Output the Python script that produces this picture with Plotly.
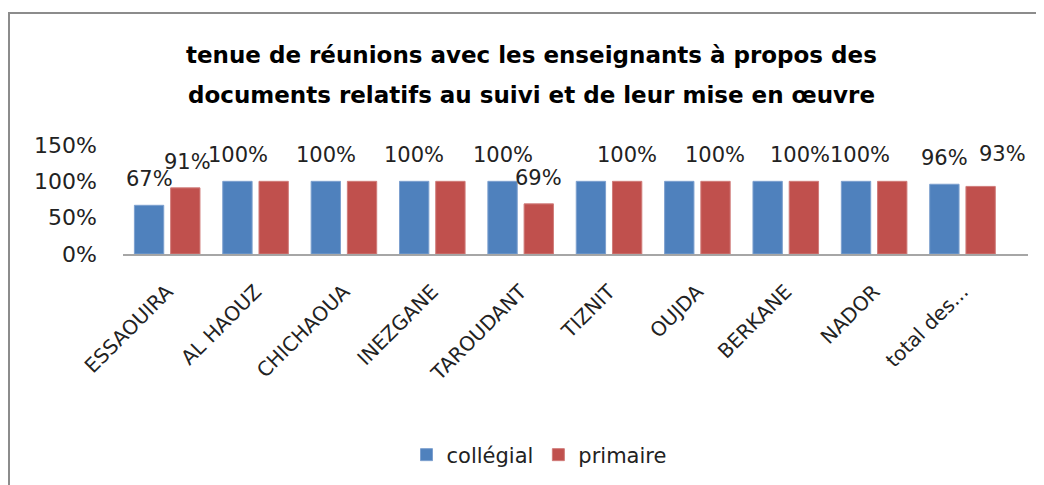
import plotly.graph_objects as go

categories = ["ESSAOUIRA", "AL HAOUZ", "CHICHAOUA", "INEZGANE", "TAROUDANT",
              "TIZNIT", "OUJDA", "BERKANE", "NADOR", "total des..."]
collegial = [0.67, 1.00, 1.00, 1.00, 1.00, 1.00, 1.00, 1.00, 1.00, 0.96]
primaire = [0.91, 1.00, 1.00, 1.00, 0.69, 1.00, 1.00, 1.00, 1.00, 0.93]
# which data labels are visible in the reference
show_collegial = [True, True, True, True, True, False, False, False, True, True]
show_primaire = [True, False, False, False, True, True, True, True, False, True]
tick_vals = [0, 0.5, 1.0, 1.5]
tick_text = ["0%", "50%", "100%", "150%"]

BLUE = "#4F81BD"
RED = "#C0504D"
FONT = "DejaVu Sans"

OFF = 8  # page body margin offset
W, H = 1044 - OFF, 485 - OFF
ML, MR, MT, MB = 123 - OFF, 16, 145 - OFF, 231
PH = H - MT - MB
PW = W - ML - MR


def py(pix):
    return (H - MB - (pix - OFF)) / PH


def px(pix):
    return (pix - OFF - ML) / PW


fig = go.Figure()
fig.add_trace(go.Bar(name="collégial", x=categories, y=collegial,
                     marker=dict(color=BLUE, line=dict(color="#7DA0CF", width=1))))
fig.add_trace(go.Bar(name="primaire", x=categories, y=primaire,
                     marker=dict(color=RED, line=dict(color="#D07C7A", width=1))))

# small horizontal nudges (px) for labels that would collide
nudge_coll = [0, 0, 0, 0, 0, 0, 0, 0, 4, 0]
nudge_prim = [2, 0, 0, 0, 0, 0, 0, -4, 0, 22]

LBL = dict(family=FONT, size=21, color="#222")
annotations = []
for i, c in enumerate(categories):
    if show_collegial[i]:
        annotations.append(dict(x=c, y=collegial[i], xref="x", yref="y",
                                text=f"{round(collegial[i]*100)}%", showarrow=False,
                                xshift=-18 + nudge_coll[i], yshift=26, yanchor="middle",
                                font=LBL))
    if show_primaire[i]:
        up = 6 if i == len(categories) - 1 else 0
        annotations.append(dict(x=c, y=primaire[i], xref="x", yref="y",
                                text=f"{round(primaire[i]*100)}%", showarrow=False,
                                xshift=18 + nudge_prim[i], yshift=26 + up,
                                yanchor="middle", font=LBL))

TITLE = dict(family=FONT, size=23, color="#000")
annotations.append(dict(x=px(531), y=py(55), xref="paper", yref="paper",
                        text="<b>tenue de réunions avec les enseignants à propos des</b>",
                        showarrow=False, xanchor="center", yanchor="middle", font=TITLE))
annotations.append(dict(x=px(531), y=py(95), xref="paper", yref="paper",
                        text="<b>documents relatifs au suivi et de leur mise en œuvre</b>",
                        showarrow=False, xanchor="center", yanchor="middle", font=TITLE))

fig.update_layout(
    width=W, height=H,
    margin=dict(l=ML, r=MR, t=MT, b=MB, autoexpand=False),
    paper_bgcolor="white", plot_bgcolor="white",
    barmode="group", bargap=0.18, bargroupgap=0.19,
    showlegend=True,
    legend=dict(orientation="h", x=px(539), xanchor="center", y=py(455), yanchor="middle",
                font=dict(family=FONT, size=21, color="#222"), itemwidth=30,
                traceorder="normal"),
    annotations=annotations,
    shapes=[dict(type="rect", xref="paper", yref="paper",
                 x0=px(9), x1=1.2, y0=-3, y1=py(13),
                 line=dict(color="#8C8C8C", width=2), fillcolor="rgba(0,0,0,0)",
                 layer="below")],
    xaxis=dict(showline=True, linecolor="#A6A6A6", linewidth=2, showgrid=False,
               tickangle=-45, ticks="", tickfont=dict(family=FONT, size=20, color="#222"),
               ticklabelstandoff=16),
    yaxis=dict(range=[0, 1.5], tickvals=tick_vals, ticktext=tick_text, showgrid=False,
               showline=False, zeroline=False, ticks="",
               tickfont=dict(family=FONT, size=22, color="#222"),
               ticklabelstandoff=25),
)

fig.write_html("out.html")
